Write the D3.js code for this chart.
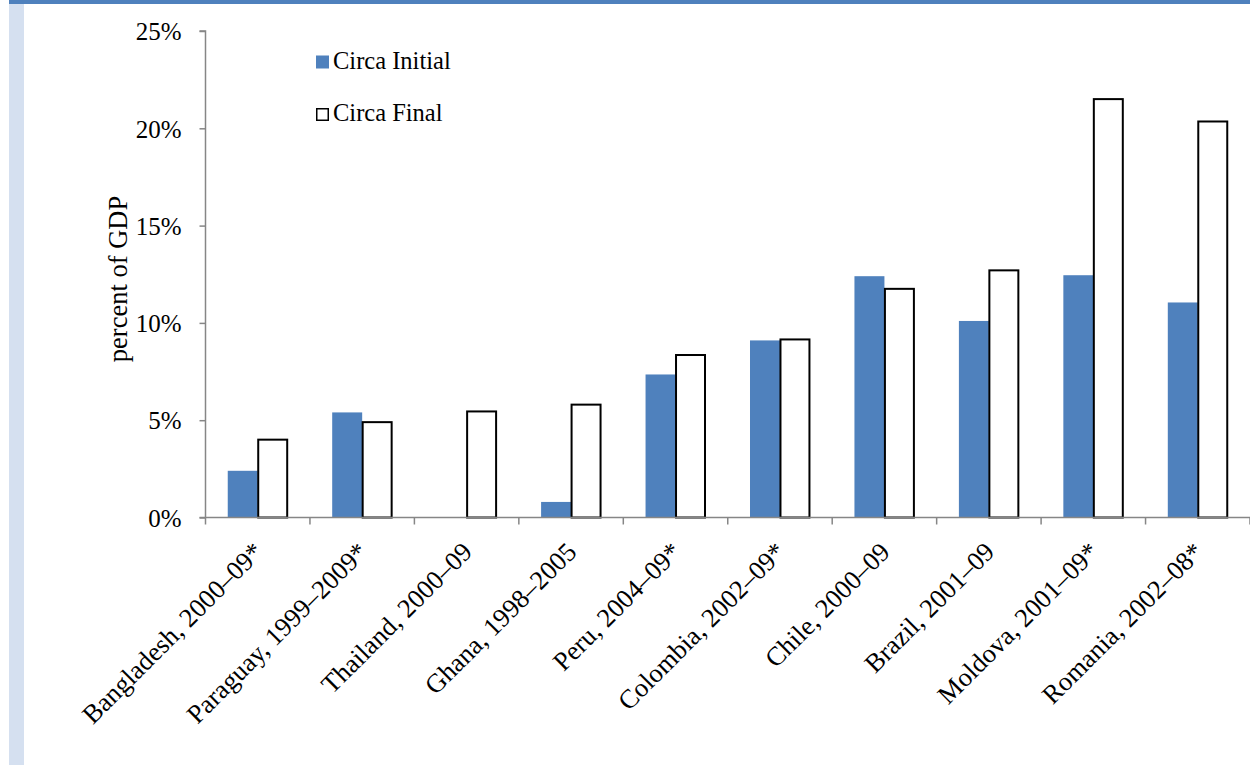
<!DOCTYPE html>
<html>
<head>
<meta charset="utf-8">
<script src="https://cdn.jsdelivr.net/npm/d3@7/dist/d3.min.js"></script>
<style>
  html, body { margin: 0; padding: 0; background: #fff; }
  svg { display: block; }
  text { font-family: "Liberation Serif", "Times New Roman", serif; fill: #000; }
</style>
</head>
<body>
<svg id="chart" width="1250" height="765"></svg>
<script>
// Social spending episodes, percent of GDP
const categories = [
  "Bangladesh, 2000–09*", "Paraguay, 1999–2009*", "Thailand, 2000–09",
  "Ghana, 1998–2005", "Peru, 2004–09*", "Colombia, 2002–09*",
  "Chile, 2000–09", "Brazil, 2001–09", "Moldova, 2001–09*", "Romania, 2002–08*"
];
const seriesNames = ["Circa Initial", "Circa Final"];
const circaInitial = [2.4, 5.4, 0, 0.8, 7.35, 9.1, 12.4, 10.1, 12.45, 11.05];
const circaFinal   = [4.0, 4.9, 5.45, 5.8, 8.35, 9.15, 11.75, 12.7, 21.5, 20.35];
const yTicks = [0, 5, 10, 15, 20, 25];

const svg = d3.select("#chart");
const W = 1250, H = 765;

// page frame: top rule and left strip
svg.append("rect").attr("x", 9).attr("y", 0).attr("width", W - 9).attr("height", 4).attr("fill", "#4f81bd");
svg.append("rect").attr("x", 9).attr("y", 4).attr("width", 15).attr("height", H - 4).attr("fill", "#d5e0f0");

const plot = { left: 205.5, right: 1250, top: 31, bottom: 517.5 };

const x = d3.scaleBand().domain(categories).range([plot.left, plot.right]).paddingInner(0).paddingOuter(0);
const groupW = x.step() * 0.574;
const x1 = d3.scaleBand().domain(seriesNames).range([0, groupW]);
const y = d3.scaleLinear().domain([0, 25]).range([plot.bottom, plot.top]);

const rows = categories.map((c, i) => ({ cat: c, vals: [circaInitial[i], circaFinal[i]] }));

// bars
const groups = svg.append("g").selectAll("g").data(rows).join("g")
  .attr("transform", d => `translate(${x(d.cat) + (x.step() - groupW) / 2},0)`);

groups.append("rect")
  .attr("x", x1(seriesNames[0]))
  .attr("width", x1.bandwidth())
  .attr("y", d => y(d.vals[0]))
  .attr("height", d => y(0) - y(d.vals[0]))
  .attr("fill", "#4f81bd");

groups.append("rect")
  .attr("x", x1(seriesNames[1]) + 0.5)
  .attr("width", x1.bandwidth() - 1)
  .attr("y", d => y(d.vals[1]))
  .attr("height", d => y(0) - y(d.vals[1]))
  .attr("fill", "#fff")
  .attr("stroke", "#000")
  .attr("stroke-width", 2);

// y axis
const yAxis = svg.append("g").attr("transform", `translate(${plot.left},0)`)
  .call(d3.axisLeft(y).tickValues(yTicks).tickFormat(d => d + "%").tickSize(6).tickPadding(18));
yAxis.select(".domain").attr("stroke", "#868686").attr("stroke-width", 1.5).attr("d", `M-6,${plot.top}H0V${plot.bottom}`);
yAxis.selectAll(".tick line").attr("stroke", "#868686").attr("stroke-width", 1.5);
yAxis.selectAll(".tick text").style("font-size", "25px").attr("dy", "0.35em")
  .style("font-family", "'Liberation Serif', 'Times New Roman', serif");

// x axis: line with ticks at category boundaries
const xa = svg.append("g");
xa.append("line").attr("x1", plot.left - 6).attr("x2", plot.right).attr("y1", plot.bottom).attr("y2", plot.bottom)
  .attr("stroke", "#868686").attr("stroke-width", 1.5);
const bounds = categories.map(c => x(c)).concat([plot.right]);
xa.selectAll("line.tk").data(bounds).join("line").attr("class", "tk")
  .attr("x1", d => d).attr("x2", d => d).attr("y1", plot.bottom).attr("y2", plot.bottom + 7)
  .attr("stroke", "#868686").attr("stroke-width", 1.5);

// category labels, rotated
svg.append("g").selectAll("text").data(categories).join("text")
  .attr("transform", d => `translate(${x(d) + x.bandwidth() / 2 + 7},${plot.bottom + 36}) rotate(-45)`)
  .attr("text-anchor", "end")
  .style("font-size", "26.5px")
  .text(d => d);

// y axis title
svg.append("text")
  .attr("transform", `translate(127,279) rotate(-90)`)
  .attr("text-anchor", "middle")
  .style("font-size", "26.5px")
  .text("percent of GDP");

// legend
const legend = svg.append("g");
legend.append("rect").attr("x", 316).attr("y", 55.5).attr("width", 13).attr("height", 13).attr("fill", "#4f81bd");
legend.append("text").attr("x", 333).attr("y", 69).style("font-size", "24.5px").text(seriesNames[0]);
legend.append("rect").attr("x", 316.75).attr("y", 108.75).attr("width", 11.5).attr("height", 11.5)
  .attr("fill", "#fff").attr("stroke", "#000").attr("stroke-width", 1.5);
legend.append("text").attr("x", 333).attr("y", 121).style("font-size", "24.5px").text(seriesNames[1]);
</script>
</body>
</html>
